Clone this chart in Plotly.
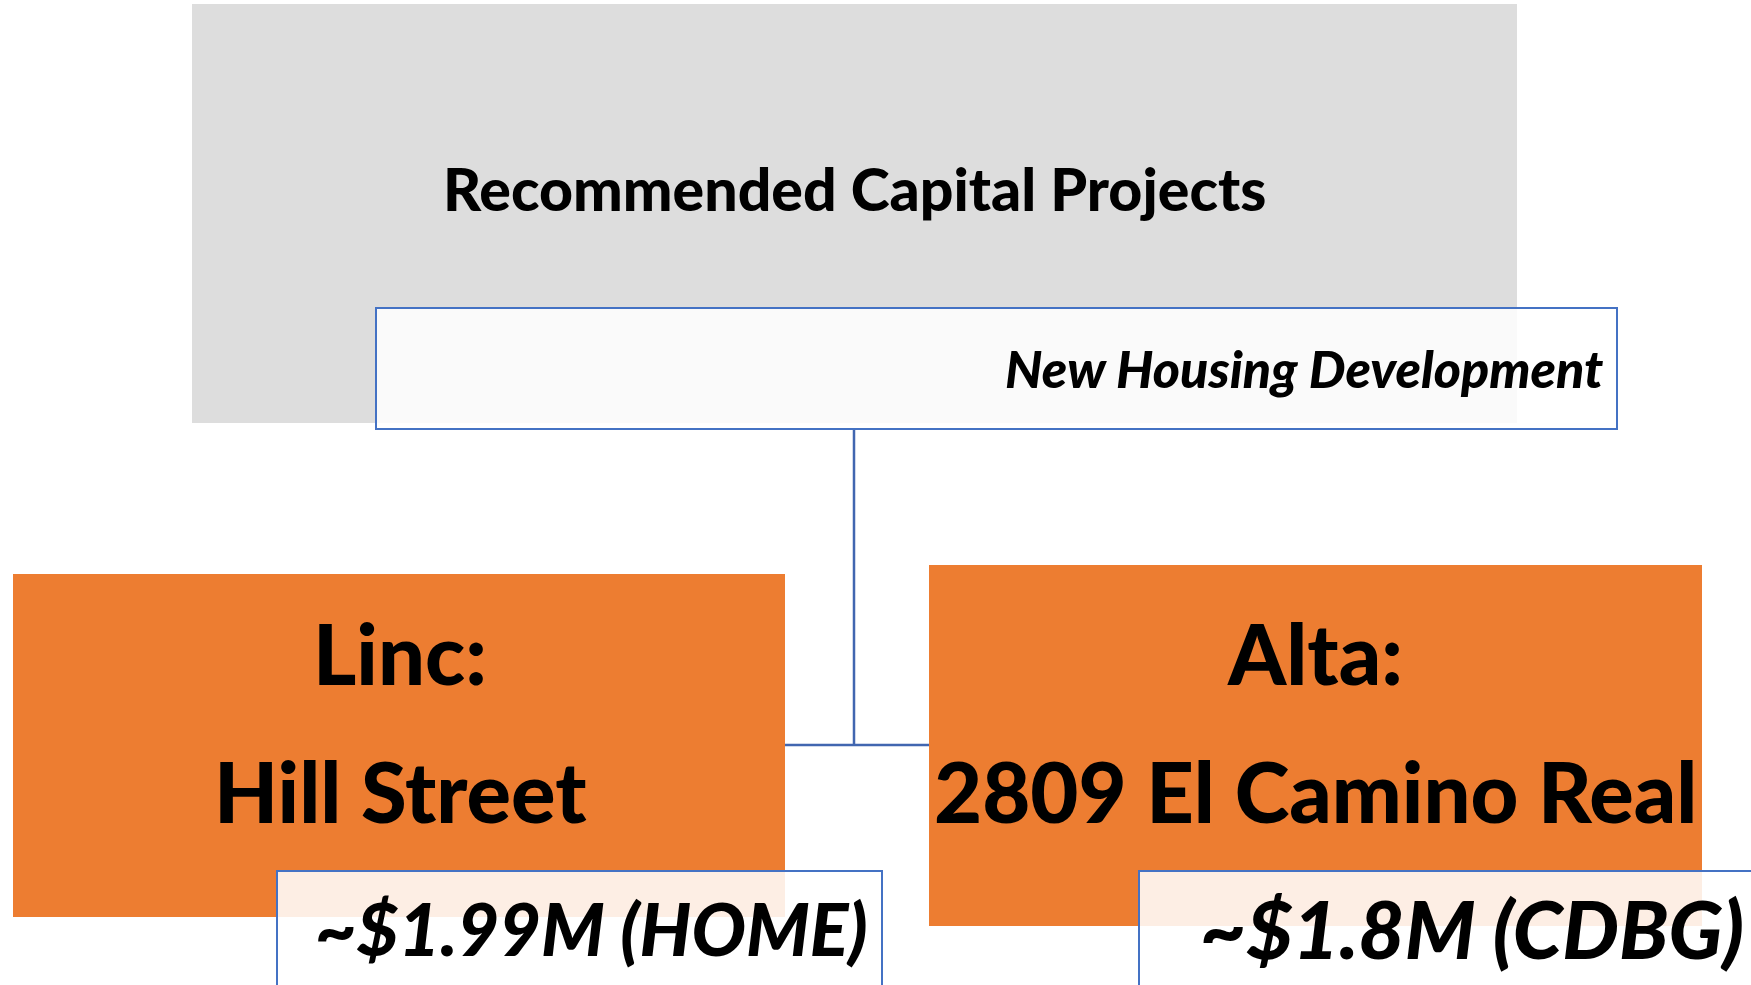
import plotly.graph_objects as go

# ---- content (text of the org chart) ----
root_label = "Recommended Capital Projects"
root_sub_label = "New Housing Development"
child_names = ["Linc:", "Alta:"]
child_sites = ["Hill Street", "2809 El Camino Real"]
child_funding = ["~$1.99M (HOME)", "~$1.8M (CDBG)"]

# ---- layout geometry (pixels, page coordinates) ----
W, H = 1751, 985
FONT = "Lato"
WEIGHT = 900
GRAY = "#DDDDDD"
ORANGE = "#ED7D31"
BLUE = "#4472C4"
LINE = "#4166B0"

root_box = (192, 4, 1517, 423)
sub_box = (376, 308, 1617, 429)
child_boxes = [(13, 574, 785, 917), (929, 565, 1702, 926)]
fund_boxes = [(277, 871, 882, 1000), (1139, 871, 1760, 1000)]
child_cx = [400, 1315]
fund_cx = [591, 1472]
fund_size = [72, 80]

fig = go.Figure()
fig.add_trace(go.Scatter(x=[0, W], y=[0, H], mode="markers",
                         marker=dict(opacity=0), hoverinfo="skip", showlegend=False))

shapes = []
shapes.append(dict(type="line", x0=854, y0=429, x1=854, y1=745,
                   line=dict(color=LINE, width=2.5)))
shapes.append(dict(type="line", x0=785, y0=745, x1=929, y1=745,
                   line=dict(color=LINE, width=2.5)))
x0, y0, x1, y1 = root_box
shapes.append(dict(type="rect", x0=x0, y0=y0, x1=x1, y1=y1,
                   fillcolor=GRAY, line=dict(width=0)))
x0, y0, x1, y1 = sub_box
shapes.append(dict(type="rect", x0=x0, y0=y0, x1=x1, y1=y1,
                   fillcolor="rgba(255,255,255,0.86)", line=dict(color=BLUE, width=2)))
for (x0, y0, x1, y1) in child_boxes:
    shapes.append(dict(type="rect", x0=x0, y0=y0, x1=x1, y1=y1,
                       fillcolor=ORANGE, line=dict(width=0)))
for (x0, y0, x1, y1) in fund_boxes:
    shapes.append(dict(type="rect", x0=x0, y0=y0, x1=x1, y1=y1,
                       fillcolor="rgba(255,255,255,0.87)", line=dict(color=BLUE, width=2)))

ann = []
ann.append(dict(x=854, y=188, text=root_label, showarrow=False, xanchor="center",
                yanchor="middle", font=dict(family=FONT, size=59, color="black", weight=WEIGHT)))
ann.append(dict(x=1605, y=368, text=root_sub_label, showarrow=False, xanchor="right",
                yanchor="middle", font=dict(family=FONT, size=52, color="black",
                                            weight=WEIGHT, style="italic")))
for i in range(2):
    ann.append(dict(x=child_cx[i], y=653, text=child_names[i], showarrow=False,
                    xanchor="center", yanchor="middle",
                    font=dict(family=FONT, size=83, color="black", weight=WEIGHT)))
    ann.append(dict(x=child_cx[i], y=791, text=child_sites[i], showarrow=False,
                    xanchor="center", yanchor="middle",
                    font=dict(family=FONT, size=83, color="black", weight=WEIGHT)))
    ann.append(dict(x=fund_cx[i], y=928, text=child_funding[i], showarrow=False,
                    xanchor="center", yanchor="middle",
                    font=dict(family=FONT, size=fund_size[i], color="black",
                              weight=WEIGHT, style="italic")))

fig.update_layout(
    width=W, height=H, margin=dict(l=0, r=0, t=0, b=0),
    paper_bgcolor="white", plot_bgcolor="white",
    xaxis=dict(range=[0, W], visible=False, fixedrange=True),
    yaxis=dict(range=[H, 0], visible=False, fixedrange=True),
    shapes=shapes, annotations=ann, showlegend=False,
)
fig.write_html("out.html", config={"displayModeBar": False},
               post_script="document.body.style.margin='0px';document.body.style.overflow='hidden';")
